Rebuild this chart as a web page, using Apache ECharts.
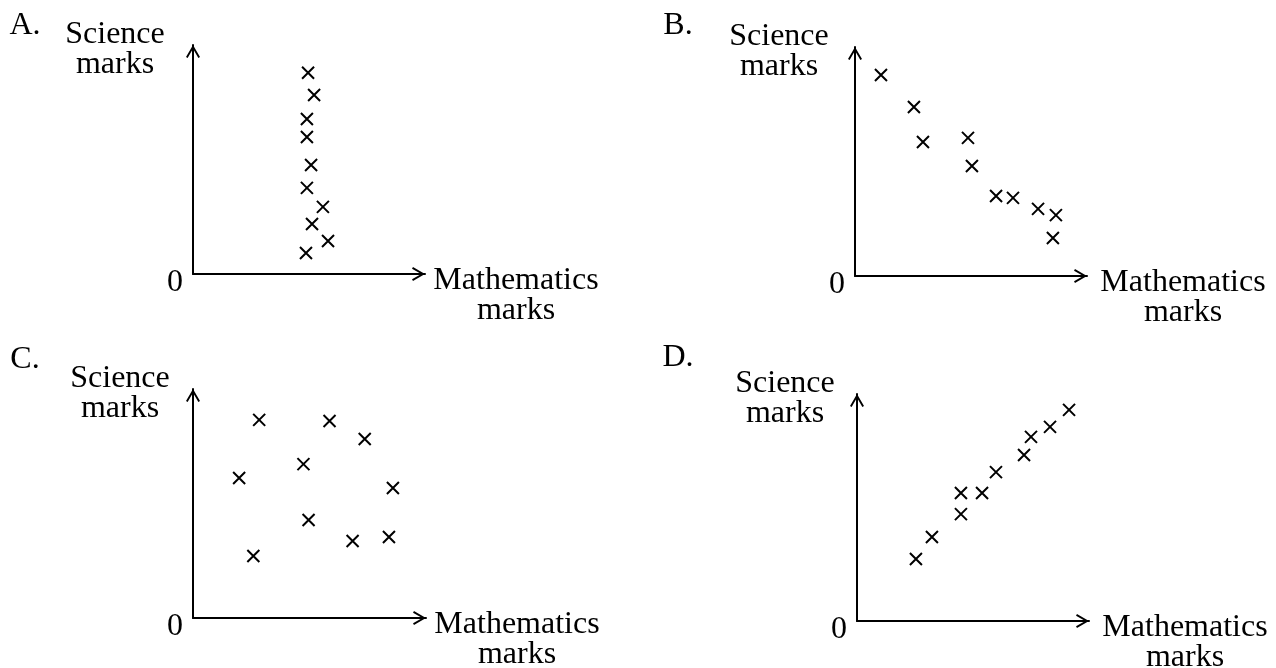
<!DOCTYPE html>
<html>
<head>
<meta charset="utf-8">
<script src="https://cdn.jsdelivr.net/npm/echarts@6/dist/echarts.min.js"></script>
<style>
  html, body { margin: 0; padding: 0; background: #ffffff; }
  #chart { width: 1276px; height: 668px; }
</style>
</head>
<body>
<div id="chart"></div>
<script>
// Four scatter diagrams of Science marks against Mathematics marks (options A-D)
const panelLabels = ['A.', 'B.', 'C.', 'D.'];
const xAxisTitle = 'Mathematics\nmarks';
const yAxisTitle = 'Science\nmarks';
const originLabel = '0';

// A: no correlation, maths marks nearly constant
const mathsA   = [49.6, 52.2, 49.1, 49.1, 50.9, 49.1, 56.0, 51.3, 58.2, 48.7];
const scienceA = [87.9, 78.2, 67.7, 59.8, 47.6, 37.6, 29.3, 21.8, 14.4, 9.2];

// B: negative correlation
const mathsB   = [11.2, 25.4, 29.3, 48.7, 50.4, 60.8, 68.1, 78.9, 86.6, 85.3];
const scienceB = [87.8, 73.8, 58.5, 60.3, 48.0, 34.9, 34.1, 29.3, 26.6, 16.6];

// C: no clear relationship
const mathsC   = [28.4, 58.6, 73.7, 19.8, 47.4, 85.8, 49.6, 68.5, 84.1, 25.9];
const scienceC = [86.5, 86.0, 78.2, 61.1, 67.2, 56.8, 42.8, 33.6, 35.4, 27.1];

// D: positive correlation
const mathsD   = [25.4, 32.3, 44.8, 44.8, 53.9, 59.9, 72.0, 75.0, 83.2, 91.4];
const scienceD = [27.3, 37.0, 47.1, 56.4, 56.4, 65.6, 73.1, 81.1, 85.5, 93.0];

const panels = [
  { maths: mathsA, science: scienceA },
  { maths: mathsB, science: scienceB },
  { maths: mathsC, science: scienceC },
  { maths: mathsD, science: scienceD }
];

// Layout of each small diagram (plot box = the two arrowed axes)
const layout = [
  { left: 193, top: 45,  width: 232, height: 229, nameShift: 78, xNameGap: 91, letter: [25, 26] },
  { left: 855, top: 47,  width: 232, height: 229, nameShift: 76, xNameGap: 96, letter: [678, 26] },
  { left: 193, top: 389, width: 233, height: 229, nameShift: 73, xNameGap: 91, letter: [25, 360] },
  { left: 857, top: 394, width: 232, height: 227, nameShift: 72, xNameGap: 96, letter: [678, 358] }
];

const FONT = "'Liberation Serif', 'Times New Roman', serif";
const FONT_SIZE = 32;
// Open arrow head (pointing up before the axis rotates it)
const ARROW = 'path://M0,12L7,0L14,12L12.36,12.96L7,3.7L1.64,12.96Z';
// Plain "x" marker
const CROSS = 'path://M0,0L10,10M10,0L0,10';

function axisLineStyle() {
  return {
    show: true,
    onZero: false,
    symbol: ['none', ARROW],
    symbolSize: [14, 13],
    symbolOffset: [0, -6.5],
    lineStyle: { color: '#000', width: 2 }
  };
}

const grids = [], xAxes = [], yAxes = [], series = [], graphics = [];

layout.forEach((g, i) => {
  grids.push({
    left: g.left, top: g.top, width: g.width, height: g.height,
    containLabel: false, outerBoundsMode: 'none'
  });
  xAxes.push({
    gridIndex: i, type: 'value', min: 0, max: 100, interval: 100,
    axisLine: axisLineStyle(),
    axisTick: { show: false },
    splitLine: { show: false },
    axisLabel: { show: false },
    name: xAxisTitle,
    nameLocation: 'end',
    nameGap: g.xNameGap,
    nameMoveOverlap: false,
    nameTextStyle: {
      fontFamily: FONT, fontSize: FONT_SIZE, color: '#000',
      align: 'center', verticalAlign: 'top', lineHeight: 30,
      padding: [-8, 0, 0, 0]
    }
  });
  yAxes.push({
    gridIndex: i, type: 'value', min: 0, max: 100, interval: 100,
    axisLine: axisLineStyle(),
    axisTick: { show: false },
    splitLine: { show: false },
    axisLabel: {
      show: true, showMinLabel: true,
      formatter: v => (v === 0 ? originLabel : ''),
      margin: 10,
      fontFamily: FONT, fontSize: FONT_SIZE, color: '#000',
      verticalAlign: 'top', lineHeight: 18
    },
    name: yAxisTitle,
    nameLocation: 'end',
    nameGap: -5,
    nameMoveOverlap: false,
    nameTextStyle: {
      fontFamily: FONT, fontSize: FONT_SIZE, color: '#000',
      align: 'center', verticalAlign: 'middle', lineHeight: 30,
      padding: [0, g.nameShift * 2, 0, 0]
    }
  });
  const p = panels[i];
  series.push({
    type: 'scatter',
    xAxisIndex: i, yAxisIndex: i,
    symbol: CROSS,
    symbolSize: 12,
    itemStyle: { color: 'rgba(0,0,0,0)', borderColor: '#000', borderWidth: 2, opacity: 1 },
    emphasis: { disabled: true },
    data: p.maths.map((m, k) => [m, p.science[k]])
  });
  graphics.push({
    type: 'text',
    x: g.letter[0], y: g.letter[1],
    style: {
      text: panelLabels[i],
      fontFamily: FONT, fontSize: FONT_SIZE, fill: '#000',
      align: 'center', verticalAlign: 'middle'
    }
  });
});

const chart = echarts.init(document.getElementById('chart'), null, { renderer: 'canvas' });
chart.setOption({
  backgroundColor: '#ffffff',
  animation: false,
  grid: grids,
  xAxis: xAxes,
  yAxis: yAxes,
  series: series,
  graphic: graphics
});
</script>
</body>
</html>
